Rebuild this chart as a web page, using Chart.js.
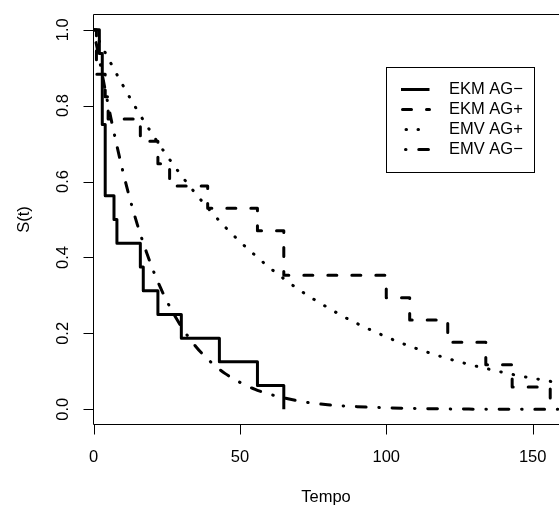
<!DOCTYPE html>
<html>
<head>
<meta charset="utf-8">
<script src="https://cdn.jsdelivr.net/npm/chart.js@4/dist/chart.umd.min.js"></script>
<style>
  html, body { margin: 0; padding: 0; background: #fff; }
  canvas { display: block; }
</style>
</head>
<body>
<canvas id="survChart" width="559" height="507"></canvas>
<script>
// Kaplan-Meier estimates (steps)
const kmNegTime = [0, 2, 3, 4, 7, 8, 16, 17, 22, 30, 43, 56, 65];
const kmNegSurv = [1, 0.9375, 0.75, 0.5625, 0.5, 0.4375, 0.375, 0.3125, 0.25, 0.1875, 0.125, 0.0625, 0];
const kmPosTime = [0, 1, 4, 5, 16, 22, 26, 39, 56, 65, 100, 108, 121, 134, 143, 156];
const kmPosSurv = [1, 0.8824, 0.8235, 0.7647, 0.7059, 0.6471, 0.5882, 0.5294, 0.4706, 0.3529, 0.2941, 0.2353, 0.1765, 0.1176, 0.0588, 0];

// fitted (EMV) curves
const emvPosTime = [0, 5, 10, 15, 20, 25, 30, 35, 40, 45, 50, 55, 60, 65, 70, 75, 80,
  85, 90, 95, 100, 105, 110, 115, 120, 125, 130, 135, 140, 145, 150, 155, 160];
const emvPosSurv = [1, 0.925, 0.854, 0.787, 0.726, 0.669, 0.616, 0.567, 0.522, 0.480, 0.442,
  0.407, 0.374, 0.344, 0.316, 0.291, 0.268, 0.246, 0.226, 0.208, 0.191, 0.175, 0.161, 0.148,
  0.136, 0.125, 0.115, 0.106, 0.097, 0.089, 0.082, 0.075, 0.069];
const emvNegTime = [0, 2, 4, 6, 8, 10, 12, 15, 18, 21, 25, 30, 35, 40, 45, 50, 55, 60,
  70, 80, 90, 100, 120, 140, 160];
const emvNegSurv = [1, 0.922, 0.841, 0.765, 0.694, 0.628, 0.567, 0.486, 0.416, 0.354, 0.286,
  0.218, 0.165, 0.125, 0.094, 0.071, 0.053, 0.040, 0.022, 0.012, 0.007, 0.004, 0.001, 0.0003, 0.0001];

const xTicks = [0, 50, 100, 150];
const yTicks = [0, 0.2, 0.4, 0.6, 0.8, 1.0];
const yTickLabels = ["0.0", "0.2", "0.4", "0.6", "0.8", "1.0"];

const FONT = "16.5px 'Liberation Sans', Arial, sans-serif";

function pts(xs, ys) {
  return xs.map((x, i) => ({ x: x, y: ys[i] }));
}

// R-like box, axes, labels and legend
const rFrame = {
  id: "rFrame",
  afterDraw(chart) {
    const { ctx, chartArea: a, scales: { x, y } } = chart;
    ctx.save();
    ctx.strokeStyle = "#000";
    ctx.lineWidth = 1;
    ctx.setLineDash([]);
    ctx.beginPath();
    ctx.moveTo(a.right + 2, a.top);
    ctx.lineTo(a.left, a.top);
    ctx.lineTo(a.left, a.bottom);
    ctx.lineTo(a.right + 2, a.bottom);
    xTicks.forEach((v) => {
      const px = Math.round(x.getPixelForValue(v)) + 0.5;
      ctx.moveTo(px, a.bottom);
      ctx.lineTo(px, a.bottom + 10);
    });
    yTicks.forEach((v) => {
      const py = Math.round(y.getPixelForValue(v)) + 0.5;
      ctx.moveTo(a.left, py);
      ctx.lineTo(a.left - 10, py);
    });
    ctx.stroke();

    ctx.fillStyle = "#000";
    ctx.font = FONT;
    ctx.textAlign = "center";
    ctx.textBaseline = "middle";
    xTicks.forEach((v) => {
      ctx.fillText(String(v), x.getPixelForValue(v), 457);
    });
    ctx.fillText("Tempo", 326, 497);

    yTicks.forEach((v, i) => {
      ctx.save();
      ctx.translate(63, y.getPixelForValue(v));
      ctx.rotate(-Math.PI / 2);
      ctx.fillText(yTickLabels[i], 0, 0);
      ctx.restore();
    });
    ctx.save();
    ctx.translate(24, (a.top + a.bottom) / 2);
    ctx.rotate(-Math.PI / 2);
    ctx.fillText("S(t)", 0, 0);
    ctx.restore();

    // legend
    ctx.strokeRect(386.5, 67.5, 148, 105);
    const rows = [89.5, 109.5, 129.5, 149.5];
    const offsets = [0, -1.5, 31, 31.2];
    chart.data.datasets.forEach((ds, i) => {
      ctx.save();
      ctx.lineWidth = ds.borderWidth;
      ctx.lineCap = ds.borderDash.length ? "round" : "butt";
      ctx.setLineDash(i === 2 ? [0.5, 11.5] : ds.borderDash);
      ctx.lineDashOffset = offsets[i];
      ctx.beginPath();
      ctx.moveTo(401, rows[i]);
      ctx.lineTo(429.5, rows[i]);
      ctx.stroke();
      ctx.restore();
      ctx.textAlign = "left";
      ctx.fillText(ds.label, 449, rows[i]);
    });
    ctx.restore();
  }
};

new Chart(document.getElementById("survChart"), {
  type: "scatter",
  data: {
    datasets: [
      {
        label: "EKM AG\u2212",
        data: pts(kmNegTime, kmNegSurv),
        showLine: true,
        stepped: true,
        borderColor: "#000",
        borderWidth: 3,
        borderDash: [],
        borderJoinStyle: "round",
        pointRadius: 0,
      },
      {
        label: "EKM AG+",
        data: pts(kmPosTime, kmPosSurv),
        showLine: true,
        stepped: true,
        borderColor: "#000",
        borderWidth: 3,
        borderDash: [9, 15],
        borderCapStyle: "round",
        borderJoinStyle: "round",
        pointRadius: 0,
      },
      {
        label: "EMV AG+",
        data: pts(emvPosTime, emvPosSurv),
        showLine: true,
        cubicInterpolationMode: "monotone",
        borderColor: "#000",
        borderWidth: 3,
        borderDash: [0.5, 12.1],
        borderCapStyle: "round",
        pointRadius: 0,
      },
      {
        label: "EMV AG\u2212",
        data: pts(emvNegTime, emvNegSurv),
        showLine: true,
        cubicInterpolationMode: "monotone",
        borderColor: "#000",
        borderWidth: 3,
        borderDash: [0.5, 12.75, 9.7, 12.75],
        borderCapStyle: "round",
        pointRadius: 0,
      },
    ],
  },
  options: {
    responsive: false,
    devicePixelRatio: 1,
    animation: false,
    layout: { padding: { left: 93.5, top: 14.5, right: 0, bottom: 82.5 } },
    plugins: { legend: { display: false }, tooltip: { enabled: false } },
    scales: {
      x: { type: "linear", min: 0, max: 159, display: false },
      y: { type: "linear", min: -0.04, max: 1.04, display: false },
    },
  },
  plugins: [rFrame],
});
</script>
</body>
</html>
